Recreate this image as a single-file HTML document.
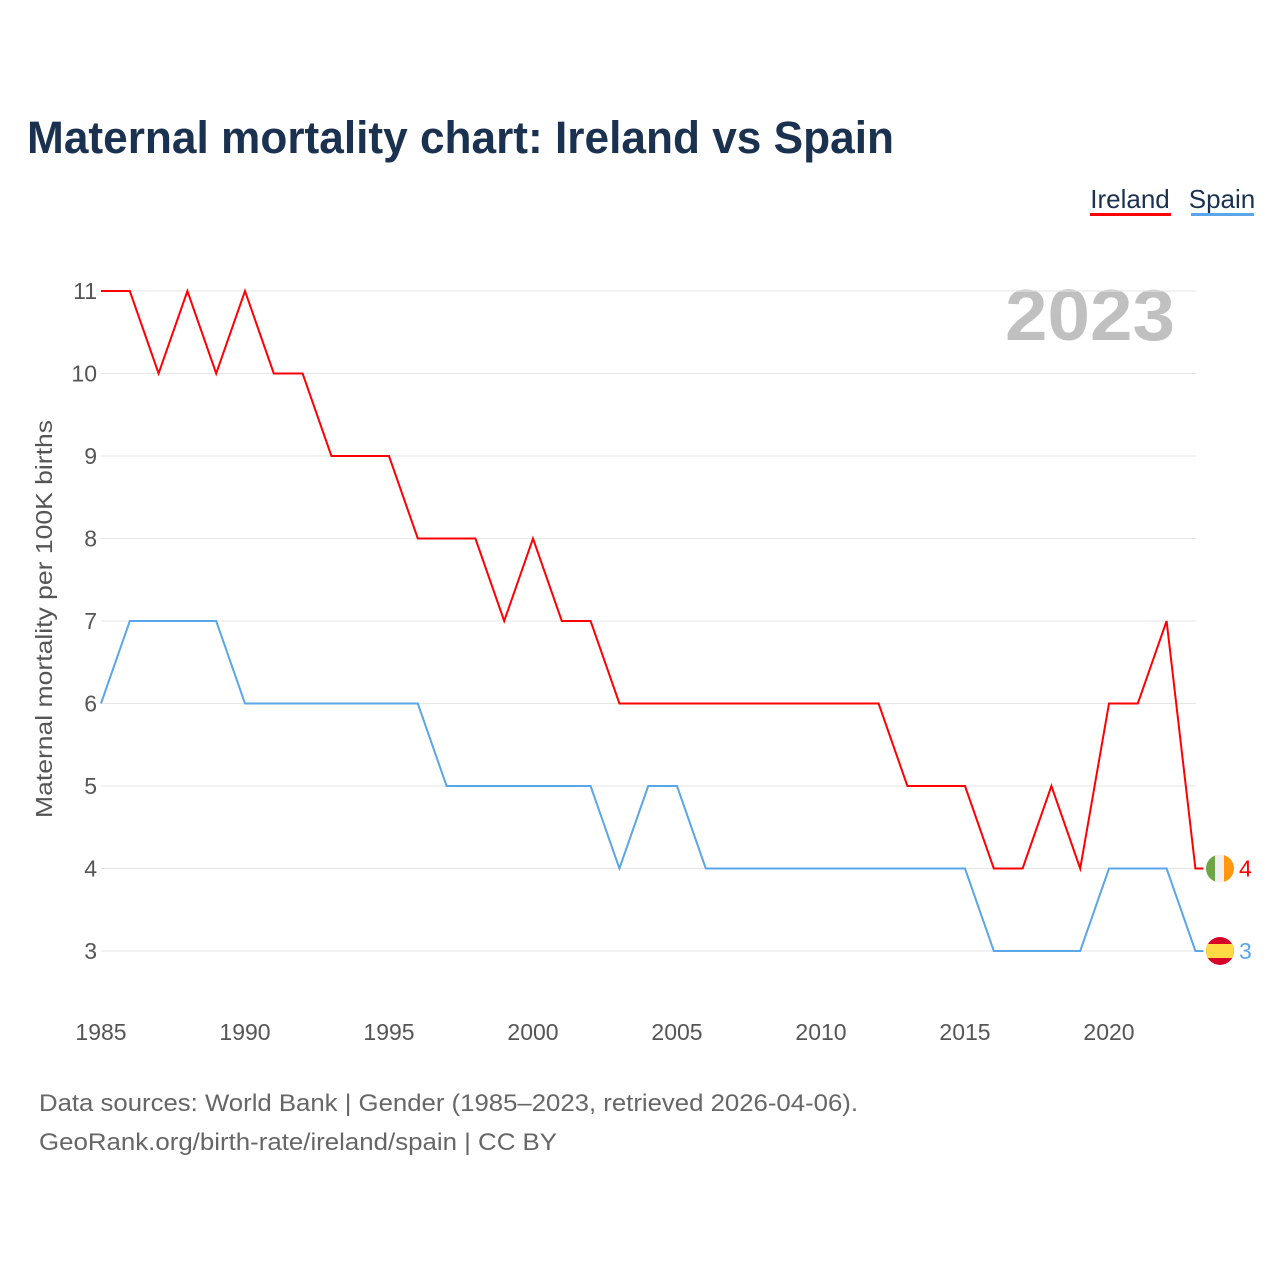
<!DOCTYPE html>
<html><head><meta charset="utf-8"><style>
body{margin:0;background:#fff;font-family:"Liberation Sans",sans-serif}
</style></head><body>
<svg id="chart" width="1280" height="1280" xmlns="http://www.w3.org/2000/svg" font-family="Liberation Sans, sans-serif">
<text x="27" y="153" font-size="45" font-weight="bold" fill="#1b3150" textLength="867" lengthAdjust="spacingAndGlyphs">Maternal mortality chart: Ireland vs Spain</text>
<g><text x="1130" y="208" font-size="26" fill="#1b3150" text-anchor="middle">Ireland</text><rect x="1090" y="213" width="81" height="3" fill="#ff0000"/></g>
<g><text x="1222" y="208" font-size="26" fill="#1b3150" text-anchor="middle">Spain</text><rect x="1191" y="213" width="63" height="3" fill="#5aa6ea"/></g>
<text x="1005" y="340" font-size="72" font-weight="bold" fill="#c0c0c0" textLength="170" lengthAdjust="spacingAndGlyphs">2023</text>
<text transform="translate(52,619) rotate(-90)" font-size="23" fill="#555" text-anchor="middle" textLength="398" lengthAdjust="spacingAndGlyphs">Maternal mortality per 100K births</text>
<g id="grid"></g><g id="series"></g>
<text x="39" y="1111" font-size="24" fill="#666" textLength="819" lengthAdjust="spacingAndGlyphs">Data sources: World Bank | Gender (1985–2023, retrieved 2026-04-06).</text>
<text x="39" y="1150" font-size="24" fill="#666" textLength="518" lengthAdjust="spacingAndGlyphs">GeoRank.org/birth-rate/ireland/spain | CC BY</text>
</svg>
<script>
const years=[];for(let y=1985;y<=2023;y++)years.push(y);
const ireland=[11,11,10,11,10,11,10,10,9,9,9,8,8,8,7,8,7,7,6,6,6,6,6,6,6,6,6,6,5,5,5,4,4,5,4,6,6,7,4];
const spain=[6,7,7,7,7,6,6,6,6,6,6,6,5,5,5,5,5,5,4,5,5,4,4,4,4,4,4,4,4,4,4,3,3,3,3,4,4,4,3];
const yTicks=[3,4,5,6,7,8,9,10,11];
const xTicks=[1985,1990,1995,2000,2005,2010,2015,2020];
const NS="http://www.w3.org/2000/svg";
const X=v=>101+(v-1985)*28.8, Y=v=>951-(v-3)*82.5;
const grid=document.getElementById('grid'), ser=document.getElementById('series');
function mk(tag,attrs,parent,txt){const e=document.createElementNS(NS,tag);for(const k in attrs)e.setAttribute(k,attrs[k]);if(txt!==undefined)e.textContent=txt;parent.appendChild(e);return e;}
yTicks.forEach(t=>{
 const l=mk('line',{x1:101,x2:1196,y1:Y(t),y2:Y(t),stroke:'#e6e6e6','stroke-width':1},grid);
 
 
 const tx=mk('text',{x:97,y:Y(t)+8,'font-size':23,fill:'#555','text-anchor':'end'},grid,String(t));
 
 
});
xTicks.forEach(t=>{
 const tx=mk('text',{x:X(t),y:1040,'font-size':23,fill:'#555','text-anchor':'middle'},grid,String(t));
 
 
});
function line(data,color){
 let d=data.map((v,i)=>(i?'L':'M')+X(years[i])+' '+Y(v)).join(' ');
 d+=' L'+(X(2023)+8)+' '+Y(data[data.length-1]);
 return mk('path',{d:d,fill:'none',stroke:color,'stroke-width':2,'stroke-linejoin':'miter'},ser);
}
const li=line(ireland,'#ff0000');


const ls=line(spain,'#5aa6ea');


const yi=Y(ireland[ireland.length-1]), ys=Y(spain[spain.length-1]);
const fi=mk('g',{},ser);


mk('defs',{},fi).innerHTML='<clipPath id="ci"><circle cx="1220" cy="'+yi+'" r="14"/></clipPath><clipPath id="cs"><circle cx="1220" cy="'+ys+'" r="14"/></clipPath>';
const gi=mk('g',{'clip-path':'url(#ci)'},fi);
mk('rect',{x:1206,y:yi-14,width:10,height:28,fill:'#6da544'},gi);
mk('rect',{x:1215,y:yi-14,width:10,height:28,fill:'#f0f0f0'},gi);
mk('rect',{x:1224,y:yi-14,width:10,height:28,fill:'#ff9811'},gi);
const fs=mk('g',{'clip-path':'url(#cs)'},ser);


mk('rect',{x:1206,y:ys-14,width:28,height:28,fill:'#d80027'},fs);
mk('rect',{x:1206,y:ys-7,width:28,height:14,fill:'#ffda44'},fs);
const vi=mk('text',{x:1239,y:yi+8,'font-size':23,fill:'#ff0000'},ser,String(ireland[ireland.length-1]));


const vs=mk('text',{x:1239,y:ys+8,'font-size':23,fill:'#5aa6ea'},ser,String(spain[spain.length-1]));


</script>
</body></html>
